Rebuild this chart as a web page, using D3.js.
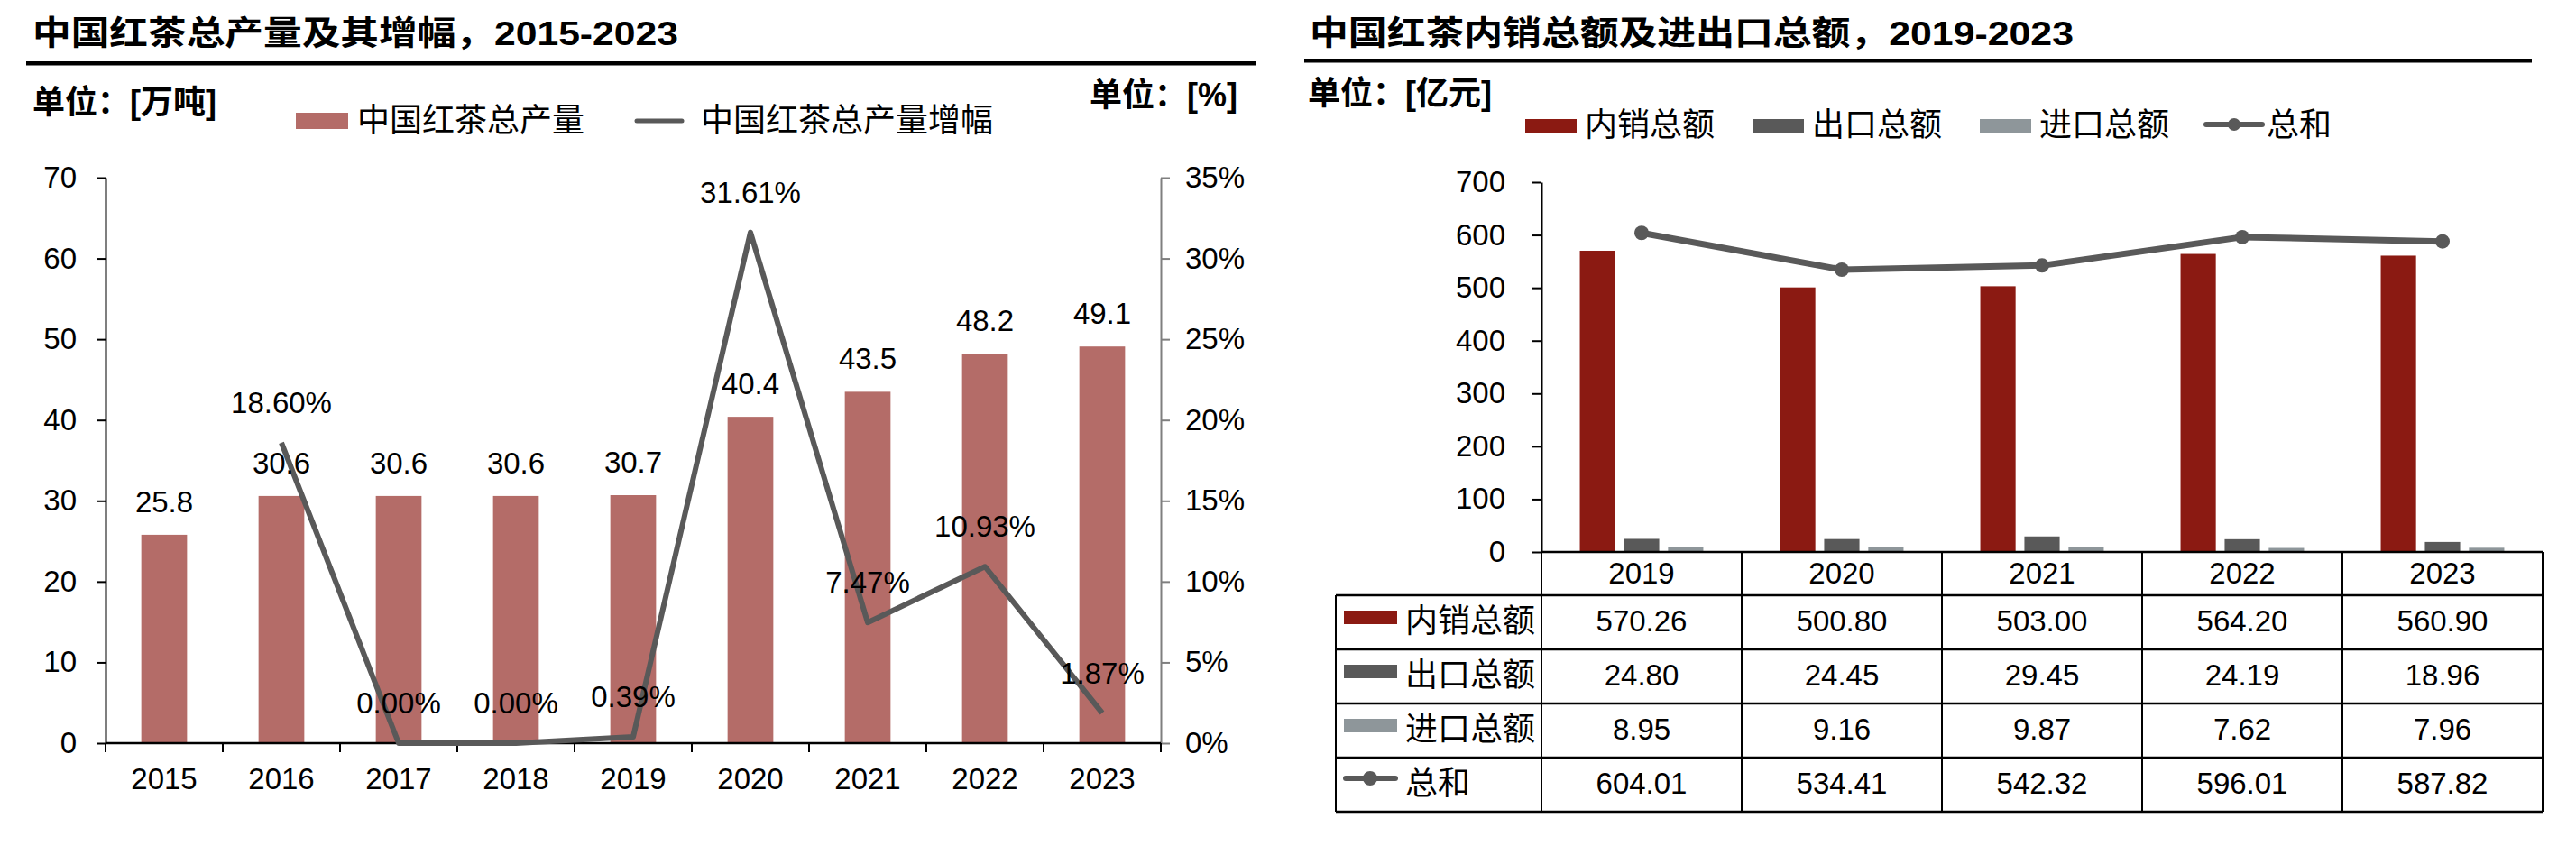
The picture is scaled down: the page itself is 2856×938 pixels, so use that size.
<!DOCTYPE html>
<html lang="zh">
<head>
  <meta charset="utf-8">
  <script src="https://cdn.jsdelivr.net/npm/d3@7"></script>
  <style>
    body {
      margin: 0;
      background: #fff;
    }

    svg {
      display: block;
      font-family: "Liberation Sans", Arial, "Noto Sans CJK SC", sans-serif;
    }
  </style>
</head>
<body>
  <svg width="2856" height="938"></svg>
  <script>
    // left chart: output and growth
    var years = ["2015", "2016", "2017", "2018", "2019", "2020", "2021", "2022", "2023"];
    var output = [25.8, 30.6, 30.6, 30.6, 30.7, 40.4, 43.5, 48.2, 49.1];
    var growth = [null, 18.60, 0.00, 0.00, 0.39, 31.61, 7.47, 10.93, 1.87];
    var outputTicks = [0, 10, 20, 30, 40, 50, 60, 70];
    var growthTicks = [0, 5, 10, 15, 20, 25, 30, 35];

    // right chart: domestic sales, exports, imports
    var tradeYears = ["2019", "2020", "2021", "2022", "2023"];
    var seriesNames = ["内销总额", "出口总额", "进口总额"];
    var domestic = [570.26, 500.80, 503.00, 564.20, 560.90];
    var exportsV = [24.80, 24.45, 29.45, 24.19, 18.96];
    var importsV = [8.95, 9.16, 9.87, 7.62, 7.96];
    var totals = [604.01, 534.41, 542.32, 596.01, 587.82];
    var tradeTicks = [0, 100, 200, 300, 400, 500, 600, 700];

    var barColor = "#b46c68",
      lineColor = "#595959",
      tradeColors = ["#8b1a12", "#595959", "#8e969a"];

    var svg = d3.select("svg");
    svg.append("rect").attr("width", 2856).attr("height", 938).attr("fill", "#fff");

    function heading(x, len, text) {
      svg.append("text")
        .attr("x", x)
        .attr("y", 50)
        .attr("font-size", 37)
        .attr("font-weight", "bold")
        .attr("textLength", len)
        .attr("lengthAdjust", "spacingAndGlyphs")
        .text(text);
    }

    function styleAxis(g, color) {
      g.attr("font-size", 33).attr("font-family", null);
      g.select(".domain").attr("stroke", color).attr("stroke-width", 2);
      g.selectAll(".tick line").attr("stroke", color).attr("stroke-width", 2);
      g.selectAll(".tick text").attr("fill", "#000");
    }

    // ---------- left chart ----------
    heading(36, 716, "中国红茶总产量及其增幅，2015-2023");
    svg.append("rect").attr("x", 29).attr("y", 68).attr("width", 1363).attr("height", 4.5).attr("fill", "#000");

    svg.append("text").attr("x", 36).attr("y", 126).attr("font-size", 36).attr("font-weight", "bold").text("单位：[万吨]");
    svg.append("text").attr("x", 1372).attr("y", 118).attr("font-size", 36).attr("font-weight", "bold")
      .attr("text-anchor", "end").text("单位：[%]");

    // legend
    svg.append("rect").attr("x", 328).attr("y", 125).attr("width", 58).attr("height", 18).attr("fill", barColor);
    svg.append("text").attr("x", 396).attr("y", 146).attr("font-size", 36).text("中国红茶总产量");
    svg.append("line").attr("x1", 706).attr("x2", 756).attr("y1", 134).attr("y2", 134)
      .attr("stroke", lineColor).attr("stroke-width", 5).attr("stroke-linecap", "round");
    svg.append("text").attr("x", 777).attr("y", 146).attr("font-size", 36).text("中国红茶总产量增幅");

    var x = d3.scaleBand().domain(years).range([117, 1287]);
    var y = d3.scaleLinear().domain([0, 70]).range([824, 197]);
    var yr = d3.scaleLinear().domain([0, 35]).range([824, 197]);
    var barW = x.bandwidth() * 0.39;

    svg.append("g").selectAll("rect")
      .data(output)
      .enter().append("rect")
      .attr("x", function(d, i) { return x(years[i]) + (x.bandwidth() - barW) / 2; })
      .attr("y", function(d) { return y(d); })
      .attr("width", barW)
      .attr("height", function(d) { return y(0) - y(d); })
      .attr("fill", barColor);

    var gl = svg.append("g").attr("transform", "translate(117,0)")
      .call(d3.axisLeft(y).tickValues(outputTicks).tickSize(10).tickSizeOuter(0).tickPadding(22));
    styleAxis(gl, "#000");

    var gr = svg.append("g").attr("transform", "translate(1287,0)")
      .call(d3.axisRight(yr).tickValues(growthTicks).tickSize(10).tickSizeOuter(0).tickPadding(17)
        .tickFormat(function(d) { return d + "%"; }));
    styleAxis(gr, "#7f7f7f");

    // x axis with ticks between categories
    var gx = svg.append("g").attr("transform", "translate(0,824)")
      .call(d3.axisBottom(x).tickSize(0).tickPadding(28));
    gx.attr("font-size", 33).attr("font-family", null);
    gx.select(".domain").remove();
    svg.append("line").attr("x1", x.range()[0]).attr("x2", x.range()[1]).attr("y1", 824).attr("y2", 824)
      .attr("stroke", "#000").attr("stroke-width", 2.5);
    svg.append("g").selectAll("line")
      .data(years.map(function(d) { return x(d); }).concat([x.range()[1]]))
      .enter().append("line")
      .attr("x1", function(d) { return d; }).attr("x2", function(d) { return d; })
      .attr("y1", 824).attr("y2", 834)
      .attr("stroke", "#000").attr("stroke-width", 2);

    // growth line
    var cx = function(i) { return x(years[i]) + x.bandwidth() / 2; };
    var line = d3.line()
      .defined(function(d) { return d != null; })
      .x(function(d, i) { return cx(i); })
      .y(function(d) { return yr(d); });
    svg.append("path").datum(growth)
      .attr("d", line)
      .attr("fill", "none")
      .attr("stroke", lineColor)
      .attr("stroke-width", 6)
      .attr("stroke-linejoin", "round");

    // labels
    svg.append("g").selectAll("text")
      .data(output)
      .enter().append("text")
      .attr("x", function(d, i) { return cx(i); })
      .attr("y", function(d) { return y(d) - 25; })
      .attr("text-anchor", "middle")
      .attr("font-size", 33)
      .text(function(d) { return d3.format(".1f")(d); });

    var growthPts = growth.map(function(d, i) { return { v: d, i: i }; })
      .filter(function(p) { return p.v != null; });
    svg.append("g").selectAll("text")
      .data(growthPts)
      .enter().append("text")
      .attr("x", function(p) { return cx(p.i); })
      .attr("y", function(p) { return yr(p.v) - 33; })
      .attr("text-anchor", "middle")
      .attr("font-size", 33)
      .text(function(p) { return d3.format(".2f")(p.v) + "%"; });

    // ---------- right chart ----------
    heading(1452, 847, "中国红茶内销总额及进出口总额，2019-2023");
    svg.append("rect").attr("x", 1446).attr("y", 65).attr("width", 1361).attr("height", 4.5).attr("fill", "#000");
    svg.append("text").attr("x", 1450).attr("y", 116).attr("font-size", 36).attr("font-weight", "bold").text("单位：[亿元]");

    var legendX = [1691, 1943, 2195];
    seriesNames.forEach(function(name, k) {
      svg.append("rect").attr("x", legendX[k]).attr("y", 132).attr("width", 57).attr("height", 15).attr("fill", tradeColors[k]);
      svg.append("text").attr("x", legendX[k] + 66).attr("y", 151).attr("font-size", 36).text(name);
    });
    svg.append("line").attr("x1", 2446).attr("x2", 2508).attr("y1", 138).attr("y2", 138)
      .attr("stroke", lineColor).attr("stroke-width", 6).attr("stroke-linecap", "round");
    svg.append("circle").attr("cx", 2477).attr("cy", 138).attr("r", 7).attr("fill", lineColor);
    svg.append("text").attr("x", 2513).attr("y", 151).attr("font-size", 36).text("总和");

    var x2 = d3.scaleBand().domain(tradeYears).range([1709, 2819]);
    var xs = d3.scaleBand().domain(seriesNames).range([0, x2.bandwidth()]).paddingInner(0.2).paddingOuter(0.87);
    var y2 = d3.scaleLinear().domain([0, 700]).range([612, 202]);
    var tradeSeries = [domestic, exportsV, importsV];

    svg.append("g").selectAll("g")
      .data(tradeSeries)
      .enter().append("g")
      .attr("fill", function(d, k) { return tradeColors[k]; })
      .each(function(vals, k) {
        d3.select(this).selectAll("rect")
          .data(vals)
          .enter().append("rect")
          .attr("x", function(d, i) { return x2(tradeYears[i]) + xs(seriesNames[k]); })
          .attr("y", function(d) { return y2(d); })
          .attr("width", xs.bandwidth())
          .attr("height", function(d) { return y2(0) - y2(d); });
      });

    var gy2 = svg.append("g").attr("transform", "translate(1709,0)")
      .call(d3.axisLeft(y2).tickValues(tradeTicks).tickSize(10).tickSizeOuter(0).tickPadding(30));
    styleAxis(gy2, "#000");

    var cx2 = function(i) { return x2(tradeYears[i]) + x2.bandwidth() / 2; };
    svg.append("path").datum(totals)
      .attr("d", d3.line().x(function(d, i) { return cx2(i); }).y(function(d) { return y2(d); }))
      .attr("fill", "none")
      .attr("stroke", lineColor)
      .attr("stroke-width", 7)
      .attr("stroke-linejoin", "round");
    svg.append("g").selectAll("circle")
      .data(totals)
      .enter().append("circle")
      .attr("cx", function(d, i) { return cx2(i); })
      .attr("cy", function(d) { return y2(d); })
      .attr("r", 8)
      .attr("fill", lineColor);

    // data table under the axis
    var tableLeft = 1481, headTop = 612, rowTop = 660, rowH = 60;
    var rowNames = seriesNames.concat(["总和"]);
    var rowValues = tradeSeries.concat([totals]);
    var tableBottom = rowTop + rowH * rowNames.length;
    var table = svg.append("g");

    table.selectAll(".yr")
      .data(tradeYears)
      .enter().append("text")
      .attr("x", function(d, i) { return cx2(i); })
      .attr("y", headTop + 35)
      .attr("text-anchor", "middle")
      .attr("font-size", 33)
      .text(function(d) { return d; });

    rowNames.forEach(function(name, r) {
      var top = rowTop + r * rowH;
      if (r < 3) {
        table.append("rect").attr("x", tableLeft + 9).attr("y", top + 17).attr("width", 59).attr("height", 15)
          .attr("fill", tradeColors[r]);
      } else {
        table.append("line").attr("x1", tableLeft + 11).attr("x2", tableLeft + 66).attr("y1", top + 23).attr("y2", top + 23)
          .attr("stroke", lineColor).attr("stroke-width", 6).attr("stroke-linecap", "round");
        table.append("circle").attr("cx", tableLeft + 38).attr("cy", top + 23).attr("r", 8).attr("fill", lineColor);
      }
      table.append("text").attr("x", tableLeft + 77).attr("y", top + 41).attr("font-size", 36).text(name);
      table.selectAll(null)
        .data(rowValues[r])
        .enter().append("text")
        .attr("x", function(d, i) { return cx2(i); })
        .attr("y", top + 40)
        .attr("text-anchor", "middle")
        .attr("font-size", 33)
        .text(function(d) { return d3.format(".2f")(d); });
    });

    // table grid
    var hLines = d3.range(rowNames.length + 1).map(function(r) { return rowTop + r * rowH; });
    table.selectAll(".h")
      .data(hLines)
      .enter().append("line")
      .attr("x1", tableLeft).attr("x2", x2.range()[1])
      .attr("y1", function(d) { return d; }).attr("y2", function(d) { return d; })
      .attr("stroke", "#000").attr("stroke-width", 2.5);
    table.selectAll(".v")
      .data(tradeYears.map(function(d) { return x2(d); }).concat([x2.range()[1]]))
      .enter().append("line")
      .attr("x1", function(d) { return d; }).attr("x2", function(d) { return d; })
      .attr("y1", headTop).attr("y2", tableBottom)
      .attr("stroke", "#000").attr("stroke-width", 2);
    table.append("line").attr("x1", tableLeft).attr("x2", tableLeft).attr("y1", rowTop).attr("y2", tableBottom)
      .attr("stroke", "#000").attr("stroke-width", 2);
    svg.append("line").attr("x1", x2.range()[0]).attr("x2", x2.range()[1]).attr("y1", headTop).attr("y2", headTop)
      .attr("stroke", "#000").attr("stroke-width", 2.5);
  </script>
</body>
</html>
